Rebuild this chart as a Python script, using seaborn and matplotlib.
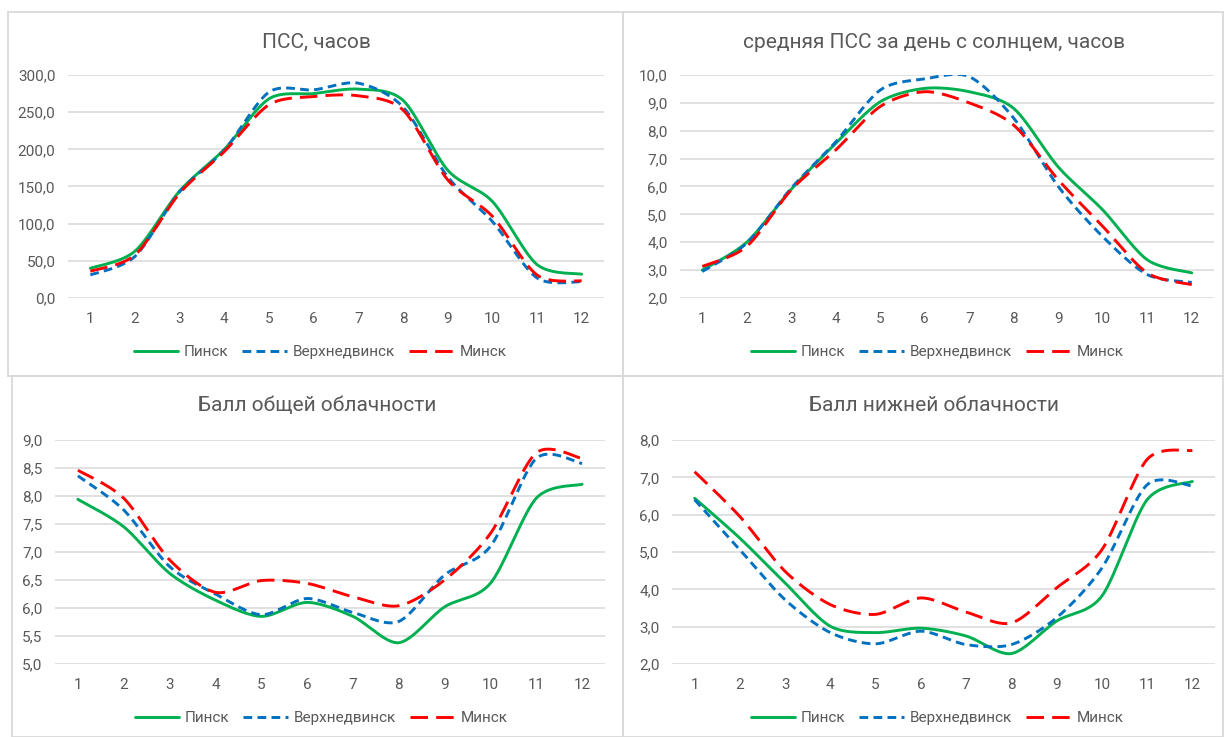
import numpy as np
import pandas as pd
import matplotlib
matplotlib.use("Agg")
import matplotlib.pyplot as plt
import seaborn as sns
from matplotlib.patches import Rectangle
from matplotlib.ticker import FuncFormatter, MultipleLocator

sns.set_theme(style="white")
plt.rcParams['font.family'] = ['Roboto', 'DejaVu Sans']

months = list(range(1, 13))
cities = ["Пинск", "Верхнедвинск", "Минск"]

# ПСС, часов
pss_pinsk = [40, 63, 144, 200, 268, 275, 281, 266, 172, 130, 45, 32]
pss_verkh = [31, 56, 143, 199, 277, 280, 289, 257, 163, 103, 27, 22]
pss_minsk = [36, 58, 141, 197, 260, 271, 272, 253, 159, 110, 31, 23]

# средняя ПСС за день с солнцем, часов
day_pinsk = [3.0, 4.0, 5.9, 7.55, 9.04, 9.52, 9.4, 8.8, 6.7, 5.16, 3.37, 2.9]
day_verkh = [2.95, 3.97, 5.94, 7.6, 9.46, 9.86, 9.94, 8.45, 6.0, 4.2, 2.84, 2.56]
day_minsk = [3.13, 3.85, 5.88, 7.31, 8.87, 9.4, 9.0, 8.2, 6.24, 4.57, 2.9, 2.48]

# Балл общей облачности
tot_pinsk = [7.94, 7.45, 6.62, 6.14, 5.85, 6.1, 5.85, 5.38, 6.02, 6.44, 7.96, 8.21]
tot_verkh = [8.36, 7.75, 6.74, 6.25, 5.88, 6.17, 5.92, 5.76, 6.59, 7.1, 8.67, 8.58]
tot_minsk = [8.46, 7.96, 6.86, 6.28, 6.49, 6.44, 6.2, 6.04, 6.5, 7.33, 8.77, 8.67]

# Балл нижней облачности
low_pinsk = [6.44, 5.37, 4.17, 3.01, 2.84, 2.96, 2.75, 2.28, 3.15, 3.82, 6.4, 6.89]
low_verkh = [6.4, 5.06, 3.72, 2.84, 2.54, 2.88, 2.52, 2.52, 3.24, 4.57, 6.8, 6.77]
low_minsk = [7.15, 5.95, 4.48, 3.59, 3.33, 3.77, 3.39, 3.1, 4.04, 5.06, 7.48, 7.72]

colors = ["#00B050", "#0070C0", "#FF0000"]
styles = ["-", (0, (3, 1.8)), (0, (6, 2.8))]
text_color = "#595959"

W, H = 1224, 737


def smooth(x, y, n=30, k=1 / 7):
    # Excel-style smoothed line (Bezier through the points)
    x = np.asarray(x, float)
    y = np.asarray(y, float)
    px = np.concatenate([[x[0]], x, [x[-1]]])
    py = np.concatenate([[y[0]], y, [y[-1]]])
    xs, ys = [], []
    t = np.linspace(0, 1, n)
    for i in range(1, len(px) - 2):
        p0 = np.array([px[i - 1], py[i - 1]])
        p1 = np.array([px[i], py[i]])
        p2 = np.array([px[i + 1], py[i + 1]])
        p3 = np.array([px[i + 2], py[i + 2]])
        b1 = p1 + (p2 - p0) * k
        b2 = p2 - (p3 - p1) * k
        pts = (((1 - t) ** 3)[:, None] * p1 + (3 * (1 - t) ** 2 * t)[:, None] * b1
               + (3 * (1 - t) * t ** 2)[:, None] * b2 + (t ** 3)[:, None] * p2)
        if i > 1:
            pts = pts[1:]
        xs.extend(pts[:, 0])
        ys.extend(pts[:, 1])
    return np.array(xs), np.array(ys)


def fx(px):
    return px / W


def fy(py):
    return 1 - py / H


fig = plt.figure(figsize=(W / 100, H / 100), dpi=100)

# panel frames
border = "#D9D9D9"
for (x0, y0, x1, y1) in [(8, 12, 623, 376), (623, 12, 1223, 376),
                         (12, 376, 623, 737), (623, 376, 1223, 737)]:
    fig.patches.append(Rectangle((fx(x0), fy(y1)), fx(x1 - x0), (y1 - y0) / H,
                                 transform=fig.transFigure, fill=False,
                                 edgecolor=border, lw=1.3))

panels = [
    dict(box=(68, 604, 75, 298), title="ПСС, часов", tpos=(316, 42), lpos=(320, 352),
         data=[pss_pinsk, pss_verkh, pss_minsk], ylim=(0, 300), step=50),
    dict(box=(680, 1214, 75, 298), title="средняя ПСС за день с солнцем, часов",
         tpos=(934, 42), lpos=(937, 352),
         data=[day_pinsk, day_verkh, day_minsk], ylim=(2, 10), step=1),
    dict(box=(55, 605, 440, 664), title="Балл общей облачности", tpos=(317, 405),
         lpos=(321, 718), data=[tot_pinsk, tot_verkh, tot_minsk], ylim=(5, 9), step=0.5),
    dict(box=(672, 1215, 440, 664), title="Балл нижней облачности", tpos=(934, 405),
         lpos=(937, 718), data=[low_pinsk, low_verkh, low_minsk], ylim=(2, 8), step=1),
]

comma = FuncFormatter(lambda v, p: f"{v:.1f}".replace(".", ","))

for p in panels:
    l, r, t, b = p["box"]
    ax = fig.add_axes([fx(l), fy(b), (r - l) / W, (b - t) / H])
    for city, vals, c, ls in zip(cities, p["data"], colors, styles):
        sx, sy = smooth(months, vals)
        df = pd.DataFrame({"x": sx, "y": sy})
        sns.lineplot(data=df, x="x", y="y", ax=ax, color=c, lw=2.1,
                     linestyle=ls, label=city, sort=False, estimator=None)
    ax.set_xlim(0.5, 12.5)
    ax.set_ylim(*p["ylim"])
    ax.yaxis.set_major_locator(MultipleLocator(p["step"]))
    ax.yaxis.set_major_formatter(comma)
    ax.set_xticks(months)
    ax.grid(axis="y", color="#D9D9D9", lw=1.1)
    ax.grid(axis="x", visible=False)
    for s in ax.spines.values():
        s.set_visible(False)
    ax.tick_params(axis="both", length=0, labelsize=11, colors=text_color)
    ax.tick_params(axis="x", pad=10)
    ax.tick_params(axis="y", pad=9)
    ax.set_xlabel("")
    ax.set_ylabel("")
    ax.legend(loc="center", bbox_to_anchor=(fx(p["lpos"][0]), fy(p["lpos"][1])),
              bbox_transform=fig.transFigure, ncol=3, frameon=False,
              fontsize=11, handlelength=2.9, columnspacing=0.9, handletextpad=0.4,
              labelcolor=text_color)
    fig.text(fx(p["tpos"][0]), fy(p["tpos"][1]), p["title"], ha="center", va="center",
             fontsize=15, color=text_color)

fig.savefig("out.png", dpi=100)
